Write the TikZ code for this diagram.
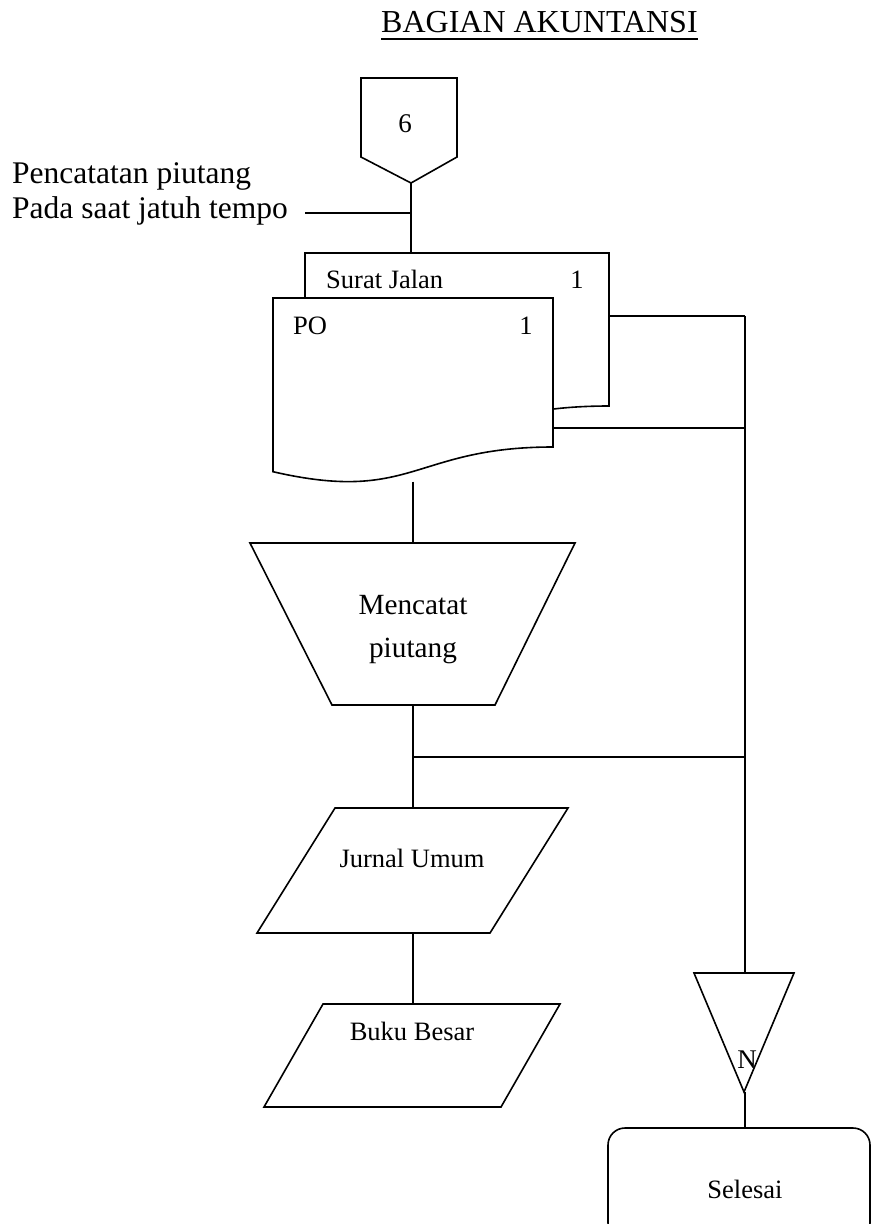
\documentclass[tikz,border=0pt]{standalone}
\usepackage{fontspec}
\setmainfont{Liberation Serif}
\begin{document}
\begin{tikzpicture}[x=1pt,y=-1pt,
  shapeline/.style={draw=black, line width=1.6pt, fill=white, line join=miter},
  link/.style={draw=black, line width=1.6pt},
  titletext/.style={font=\fontsize{32}{38}\selectfont, inner sep=0pt},
  notetext/.style={font=\fontsize{31.5}{36}\selectfont, inner sep=0pt},
  proctext/.style={font=\fontsize{29.3}{35}\selectfont, inner sep=0pt},
  midtext/.style={font=\fontsize{27}{32}\selectfont, inner sep=0pt},
  doctext/.style={font=\fontsize{26.5}{31}\selectfont, inner sep=0pt}]
\useasboundingbox (0,0) rectangle (872,1224);

% heading
\node[titletext, anchor=base west] (title) at (381,32) {BAGIAN AKUNTANSI};
\draw[line width=1.5pt] ([yshift=-7pt]title.base west) -- ([yshift=-7pt]title.base east);

% off-page connector 6
\draw[shapeline] (361,78) -- (457,78) -- (457,157) -- (411,183) -- (361,157) -- cycle;
\node[midtext, anchor=base] (opc) at (405,132) {6};
\coordinate (opcTip) at (411,183);

% side note
\node[notetext, anchor=base west] (note1) at (12,183) {Pencatatan piutang};
\node[notetext, anchor=base west] (note2) at (12,218) {Pada saat jatuh tempo};
\coordinate (noteEnd) at (305,213);
\coordinate (noteJoin) at (411,213);

% documents: Surat Jalan behind, PO in front
\draw[shapeline] (305,253) -- (609,253) -- (609,406)
  .. controls (457,406) and (457,464.5) .. (305,431) -- cycle;
\node[doctext, anchor=base west] (sj) at (326,288) {Surat Jalan};
\node[doctext, anchor=base] (sjno) at (577,288) {1};
\coordinate (sjTop) at (411,253);
\coordinate (sjRight) at (609,316);

\draw[shapeline] (273,298) -- (553,298) -- (553,447)
  .. controls (413,447) and (413,504) .. (273,471.7) -- cycle;
\node[doctext, anchor=base west] (po) at (293,334) {PO};
\node[doctext, anchor=base] (pono) at (526,334) {1};
\coordinate (poRight) at (553,428);
\coordinate (poBot) at (413,481.5);

% manual operation
\draw[shapeline] (250,543) -- (575,543) -- (495,705) -- (332,705) -- cycle;
\node[proctext, anchor=base] (proc1) at (413,614) {Mencatat};
\node[proctext, anchor=base] (proc2) at (413,657) {piutang};
\coordinate (procTop) at (413,543);
\coordinate (procBot) at (413,705);
\coordinate (procJoin) at (413,757);

% journal and ledger
\draw[shapeline] (335,808) -- (568,808) -- (490,933) -- (257,933) -- cycle;
\node[doctext, anchor=base] (ju) at (412,867) {Jurnal Umum};
\coordinate (juTop) at (413,808);
\coordinate (juBot) at (413,933);

\draw[shapeline] (323,1004) -- (560,1004) -- (501,1107) -- (264,1107) -- cycle;
\node[doctext, anchor=base] (bb) at (412,1040) {Buku Besar};
\coordinate (bbTop) at (413,1004);

% right-hand line and archive
\coordinate (busTop) at (745,316);
\coordinate (busDoc) at (745,428);
\coordinate (busProc) at (745,757);
\draw[shapeline] (694,973) -- (794,973) -- (744,1092) -- cycle;
\coordinate (arcTop) at (745,973);
\coordinate (arcTip) at (745,1092);
\node[midtext, anchor=base] (arcN) at (747,1068) {N};

% terminator
\draw[shapeline, rounded corners=17pt] (608,1128) rectangle (870,1240);
\node[doctext, anchor=base] (end) at (745,1198) {Selesai};
\coordinate (endTop) at (745,1128);

% connectors
\draw[link] (opcTip) -- (sjTop);
\draw[link] (noteEnd) -- (noteJoin);
\draw[link] (sjRight) -- (busTop);
\draw[link] (poRight) -- (busDoc);
\draw[link] (busTop) -- (arcTop);
\draw[link] (poBot) -- (procTop);
\draw[link] (procBot) -- (juTop);
\draw[link] (procJoin) -- (busProc);
\draw[link] (juBot) -- (bbTop);
\draw[link] (arcTip) -- (endTop);
\end{tikzpicture}
\end{document}
